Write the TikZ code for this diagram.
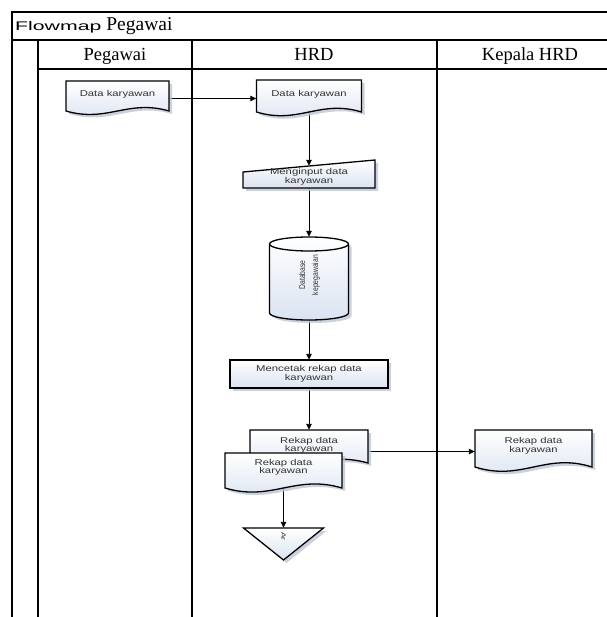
\documentclass[tikz,border=0pt]{standalone}
\usepackage{fontspec}
\usepackage{graphicx}
\setmainfont{Liberation Serif}
\newfontfamily\smallsans[FakeStretch=1.33]{Liberation Sans}
\newfontfamily\titlesans[FakeStretch=1.7]{Liberation Sans}
\newfontfamily\condsans[FakeStretch=0.8]{Liberation Sans}
\usetikzlibrary{arrows.meta,shadows}
\definecolor{docbot}{RGB}{218,227,241}
\definecolor{shadowc}{RGB}{190,198,214}
\pgfdeclarelayer{back}
\pgfsetlayers{back,main}
\newcommand{\docpath}[4]{(#1,#2) -- (#3,#2) -- (#3,#4) .. controls ({#3-0.4*(#3-#1)},{#4-0.4*(#4-#2)}) and ({#1+0.4*(#3-#1)},{#4+0.4*(#4-#2)}) .. (#1,#4) -- cycle}
\begin{document}
\begin{tikzpicture}[x=1pt,y=-1pt,
  lane/.style={line width=2.4pt, line cap=rect},
  conn/.style={line width=0.9pt, -{Triangle[length=6pt,width=5.5pt]}},
  shp/.style={draw=black, line width=1.3pt, top color=white, bottom color=docbot,
    drop shadow={shadow xshift=3pt, shadow yshift=-3pt, fill=shadowc, opacity=0.8}},
  lbl/.style={inner sep=0pt, align=center, font=\smallsans\fontsize{8.5}{8.5}\selectfont, text=black!80},
  hdr/.style={inner sep=0pt, font=\fontsize{18.5}{20}\selectfont}]
\useasboundingbox (0,0) rectangle (606,617);

% frame and lanes
\draw[lane] (610,12) -- (12,12) -- (12,620);
\draw[lane] (12,40) -- (610,40);
\draw[lane] (38,69) -- (610,69);
\draw[lane] (38,40) -- (38,620);
\draw[lane] (192,40) -- (192,620);
\draw[lane] (437,40) -- (437,620);

% title and headers
\node[anchor=base west, inner sep=0pt] (title) at (15,31)
  {{\titlesans\fontsize{12.5}{14}\selectfont Flowmap}\hspace{5pt}{\fontsize{19.5}{20}\selectfont Pegawai}};
\node[hdr, anchor=base] (h1) at (115,61) {Pegawai};
\node[hdr, anchor=base] (h2) at (314,61) {HRD};
\node[hdr, anchor=base] (h3) at (530,61) {Kepala HRD};

% Pegawai: document
\path[shp] \docpath{66}{81}{169}{111};
\node[lbl, minimum width=103pt, minimum height=27pt] (d1) at (117.5,94.5) {Data karyawan};

% HRD: document
\path[shp] \docpath{256.5}{80}{361.5}{112};
\node[lbl, minimum width=105pt, minimum height=29pt] (d2) at (309,94.5) {Data karyawan};

% manual input
\path[shp] (243,172) -- (375,160) -- (375,188) -- (243,188) -- cycle;
\node[lbl, minimum width=132pt, minimum height=22pt] (m) at (309,177) {Menginput data\\karyawan};

% database cylinder
\path[shp] (269.5,244) -- (269.5,313) arc[start angle=180, end angle=0, x radius=39.5, y radius=7]
  -- (348.5,244) arc[start angle=0, end angle=-180, x radius=39.5, y radius=7] -- cycle;
\draw[line width=1.3pt] (269.5,244) arc[start angle=180, end angle=0, x radius=39.5, y radius=7];
\node[inner sep=0pt, minimum width=79pt, minimum height=76pt, text=black!80] (c) at (309,275)
  {\rotatebox{90}{\condsans\fontsize{8.5}{13}\selectfont\begin{tabular}{@{}c@{}}Database\\kepegawaian\end{tabular}}};

% process
\path[shp] (230,360) rectangle (388,388);
\node[lbl, minimum width=158pt, minimum height=28pt] (p) at (309,374) {Mencetak rekap data\\karyawan};

% multi document: back
\path[shp] \docpath{250}{430}{368}{463};
\node[lbl, minimum width=118pt, minimum height=31pt] (d3) at (309,445.5) {Rekap data\\karyawan};

% multi document: front
\path[shp] \docpath{225}{453}{342}{488};
\node[lbl, minimum width=117pt, minimum height=29pt] (d4) at (283.5,467.5) {Rekap data\\karyawan};

% Kepala HRD: document
\path[shp] \docpath{475}{430}{592}{467};
\node[lbl, minimum width=117pt, minimum height=32pt] (d5) at (533.5,446) {Rekap data\\karyawan};

% archive triangle
\path[shp] (243.5,528) -- (323.5,528) -- (283.5,560) -- cycle;
\node[lbl, minimum width=80pt, minimum height=17pt] (t) at (283.5,536.5)
  {\rotatebox{-90}{\fontsize{6.5}{6.5}\selectfont Ar}};

% connectors
\begin{pgfonlayer}{back}
\draw[conn] ([yshift=-4pt]d1.east) -- ([yshift=-4pt]d1.east -| d2.west);
\draw[conn] (d2.south) -- (m.north);
\draw[conn] (m.south) -- (c.north);
\draw[conn] (c.south) -- (p.north);
\draw[conn] (p.south) -- (d3.north);
\draw[conn] ([yshift=-6pt]d3.east) -- ([yshift=-6pt]d3.east -| d5.west);
\draw[conn] (d4.south) -- (t.north);
\end{pgfonlayer}
\end{tikzpicture}
\end{document}
